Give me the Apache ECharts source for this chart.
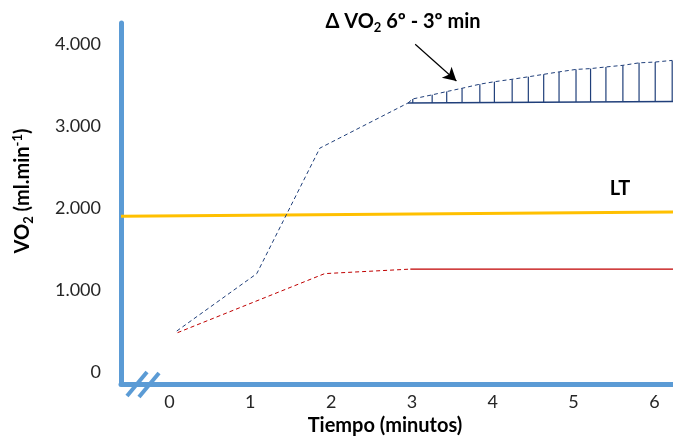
<!DOCTYPE html>
<html>
<head>
<meta charset="utf-8">
<script src="https://cdn.jsdelivr.net/npm/echarts@6/dist/echarts.min.js"></script>
<style>html,body{margin:0;padding:0;background:#fff;}#c{width:673px;height:436px;}</style>
</head>
<body>
<div id="c"></div>
<script>
// ---- data ----
const xTicks = [0, 1, 2, 3, 4, 5, 6];
const yTicks = [0, 1000, 2000, 3000, 4000];

// LT (lactate threshold) line
const ltX = [-0.6, 6.23];
const ltY = [1900, 1950];

// blue VO2 (above LT) – dashed rise
const blueX = [0.09, 1.08, 1.86, 2.95];
const blueY = [500, 1200, 2730, 3280];

// blue slow component curve (also the tops of the hatch lines)
const slowX = [3.01, 3.25, 3.43, 3.62, 3.84, 4.02, 4.24, 4.44, 4.63, 4.82, 5.03, 5.21, 5.40, 5.61, 5.81, 6.01, 6.22];
const slowY = [3330, 3380, 3420, 3460, 3510, 3540, 3570, 3600, 3630, 3660, 3690, 3700, 3720, 3740, 3770, 3780, 3800];

// baseline at 3 min
const baseX = [2.95, 6.23];
const baseY = [3280, 3300];

// red VO2 (below LT)
const redDashX = [0.10, 1.92, 2.98];
const redDashY = [480, 1200, 1255];
const redSolidX = [2.98, 6.23];
const redSolidY = [1255, 1255];

// arrow annotation (data coords)
const arrowFrom = [3.04, 3996];
const arrowTo = [3.55, 3549];

const zip = (a, b) => a.map((v, i) => [v, b[i]]);
const FONT = 'Lato, "Open Sans", sans-serif';
const NAVY = '#203F7A';
const RED = '#C00000';
const AXIS = '#5B9BD5';

const chart = echarts.init(document.getElementById('c'), null, {renderer: 'canvas'});

const slowTopSeries = [[baseX[0], baseY[0]]].concat(zip(slowX, slowY));

chart.setOption({
  animation: false,
  backgroundColor: '#fff',
  grid: {left: 121, right: 0, top: 23, bottom: 52, containLabel: false},
  xAxis: {
    type: 'value', min: -0.6, max: 6.23,
    axisLine: {show: true, onZero: false, lineStyle: {color: AXIS, width: 5}},
    axisTick: {show: false},
    splitLine: {show: false},
    axisLabel: {customValues: xTicks, margin: 9, color: '#262626', fontFamily: FONT, fontSize: 18}
  },
  yAxis: {
    type: 'value', min: -146, max: 4256,
    axisLine: {show: true, onZero: false, lineStyle: {color: AXIS, width: 5}},
    axisTick: {show: false},
    splitLine: {show: false},
    axisLabel: {
      customValues: yTicks, margin: 20, color: '#262626', fontFamily: FONT, fontSize: 18,
      formatter: v => v === 0 ? '0' : (v / 1000).toFixed(0) + '.000'
    }
  },
  series: [
    {
      type: 'line', data: zip(ltX, ltY), symbol: 'none', silent: true,
      lineStyle: {color: '#FFC000', width: 3}
    },
    {
      type: 'line', data: zip(blueX, blueY), symbol: 'none', silent: true,
      lineStyle: {color: NAVY, width: 1, type: [4, 3]}
    },
    {
      type: 'line', data: slowTopSeries, symbol: 'none', silent: true,
      lineStyle: {color: NAVY, width: 1, type: [4, 3]},
      markLine: {
        silent: true, symbol: ['none', 'arrow'], symbolSize: [11, 13],
        label: {show: false},
        lineStyle: {color: '#000', width: 1.2, type: 'solid'},
        data: [[{coord: arrowFrom}, {coord: arrowTo}]]
      }
    },
    {
      type: 'line', data: zip(baseX, baseY), symbol: 'none', silent: true,
      lineStyle: {color: NAVY, width: 1.5}
    },
    {
      type: 'custom', silent: true, data: zip(slowX, slowY),
      renderItem: function (params, api) {
        const x = api.value(0), top = api.value(1);
        const base = baseY[0] + (baseY[1] - baseY[0]) * (x - baseX[0]) / (baseX[1] - baseX[0]);
        const p1 = api.coord([x, base]);
        const p2 = api.coord([x, top]);
        return {type: 'line', shape: {x1: p1[0], y1: p1[1], x2: p2[0], y2: p2[1]},
          style: {stroke: NAVY, lineWidth: 1.2}};
      }
    },
    {
      type: 'line', data: zip(redDashX, redDashY), symbol: 'none', silent: true,
      lineStyle: {color: RED, width: 1, type: [4, 3]}
    },
    {
      type: 'line', data: zip(redSolidX, redSolidY), symbol: 'none', silent: true,
      lineStyle: {color: RED, width: 1.2}
    }
  ],
  graphic: [
    // axis break marks
    {type: 'line', shape: {x1: 127, y1: 396, x2: 147, y2: 372}, style: {stroke: AXIS, lineWidth: 4}, z: 10},
    {type: 'line', shape: {x1: 139, y1: 397, x2: 159, y2: 373}, style: {stroke: AXIS, lineWidth: 4}, z: 10},
    // axis names
    {
      type: 'text', x: 385, y: 426,
      style: {text: 'Tiempo (minutos)', font: 'bold 20px ' + FONT, fill: '#000', textAlign: 'center', textVerticalAlign: 'middle'}
    },
    {
      type: 'text', x: 23, y: 191, rotation: Math.PI / 2,
      style: {
        text: '{a|VO}{s|2}{a| (ml.min}{p|-1}{a|)}',
        textAlign: 'center', textVerticalAlign: 'middle',
        rich: {
          a: {font: 'bold 20px ' + FONT, fill: '#000', lineHeight: 24, verticalAlign: 'middle'},
          s: {font: 'bold 13px ' + FONT, fill: '#000', lineHeight: 13, verticalAlign: 'bottom'},
          p: {font: 'bold 13px ' + FONT, fill: '#000', lineHeight: 13, verticalAlign: 'top'}
        }
      }
    },
    // annotations
    {
      type: 'text', x: 403, y: 22,
      style: {
        text: '{a|Δ VO}{s|2}{a| 6º - 3º min}',
        textAlign: 'center', textVerticalAlign: 'middle',
        rich: {
          a: {font: 'bold 20px ' + FONT, fill: '#000', lineHeight: 24, verticalAlign: 'middle'},
          s: {font: 'bold 13px ' + FONT, fill: '#000', lineHeight: 13, verticalAlign: 'bottom'}
        }
      }
    },
    {
      type: 'text', x: 620, y: 189,
      style: {text: 'LT', font: 'bold 20px ' + FONT, fill: '#000', textAlign: 'center', textVerticalAlign: 'middle'}
    }
  ]
});
</script>
</body>
</html>
